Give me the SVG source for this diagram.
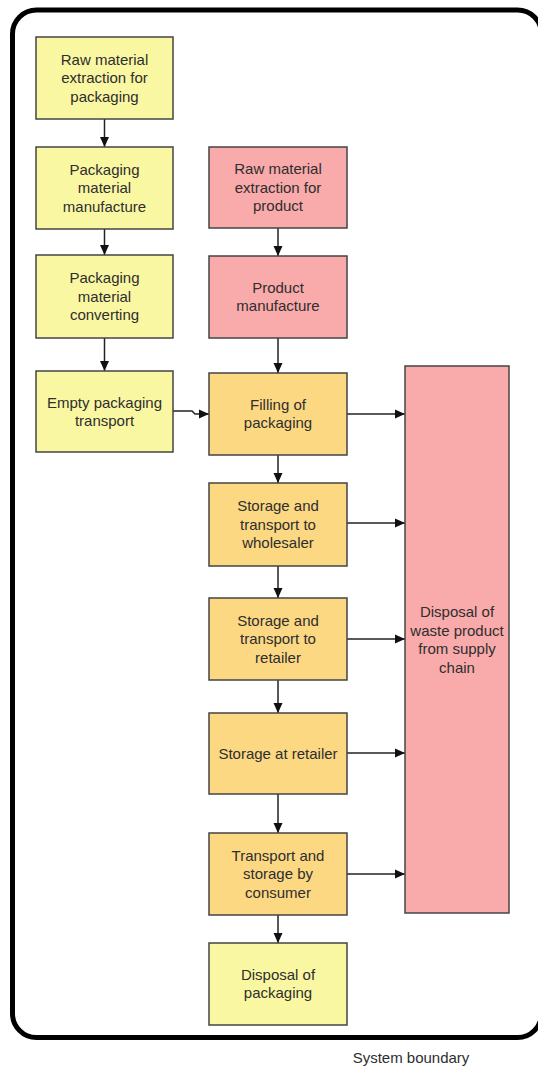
<svg xmlns="http://www.w3.org/2000/svg" width="538" height="1068" viewBox="0 0 538 1068">
<style>
.box{stroke:#444;stroke-width:1.5}
.y{fill:#FAF7A2}
.o{fill:#FCD883}
.p{fill:#F9AAAA}
text{font-family:"Liberation Sans",Arial,sans-serif;font-size:15px;fill:#2e2e2e;text-anchor:middle}
.c{stroke:#222;stroke-width:1.5;fill:none}
</style>
<defs>
<marker id="ah" markerWidth="11" markerHeight="11" refX="10" refY="5" orient="auto" markerUnits="userSpaceOnUse">
<path d="M0,0.5 L10,5 L0,9.5 Z" fill="#111"/>
</marker>
</defs>
<rect x="12.5" y="10" width="529" height="1027.5" rx="24" fill="#fff" stroke="#000" stroke-width="5"/>
<g id="connectors">
<path class="c" d="M104.5,119 V147" marker-end="url(#ah)"/>
<path class="c" d="M104.5,229 V255" marker-end="url(#ah)"/>
<path class="c" d="M104.5,338 V371" marker-end="url(#ah)"/>
<path class="c" d="M173,411 H192 L195,414 H209" marker-end="url(#ah)"/>
<path class="c" d="M278,228 V256" marker-end="url(#ah)"/>
<path class="c" d="M278,338 V373" marker-end="url(#ah)"/>
<path class="c" d="M278,455 V483" marker-end="url(#ah)"/>
<path class="c" d="M278,566 V598" marker-end="url(#ah)"/>
<path class="c" d="M278,680 V713" marker-end="url(#ah)"/>
<path class="c" d="M278,794 V833" marker-end="url(#ah)"/>
<path class="c" d="M278,915 V943" marker-end="url(#ah)"/>
<path class="c" d="M347,414 H405" marker-end="url(#ah)"/>
<path class="c" d="M347,523 H405" marker-end="url(#ah)"/>
<path class="c" d="M347,639 H405" marker-end="url(#ah)"/>
<path class="c" d="M347,753 H405" marker-end="url(#ah)"/>
<path class="c" d="M347,874 H405" marker-end="url(#ah)"/>
</g>
<g id="n1"><rect class="box y" x="36" y="37" width="137" height="82"/>
<text x="104.5"><tspan x="104.5" y="64.5">Raw material</tspan><tspan x="104.5" y="83">extraction for</tspan><tspan x="104.5" y="101.5">packaging</tspan></text></g>
<g id="n2"><rect class="box y" x="36" y="147" width="137" height="82"/>
<text x="104.5"><tspan x="104.5" y="174.5">Packaging</tspan><tspan x="104.5" y="193">material</tspan><tspan x="104.5" y="211.5">manufacture</tspan></text></g>
<g id="n3"><rect class="box y" x="36" y="255" width="137" height="83"/>
<text x="104.5"><tspan x="104.5" y="283">Packaging</tspan><tspan x="104.5" y="301.5">material</tspan><tspan x="104.5" y="320">converting</tspan></text></g>
<g id="n4"><rect class="box y" x="36" y="371" width="137" height="81"/>
<text x="104.5"><tspan x="104.5" y="407.5">Empty packaging</tspan><tspan x="104.5" y="426">transport</tspan></text></g>
<g id="n5"><rect class="box p" x="209" y="147" width="138" height="81"/>
<text x="278"><tspan x="278" y="174">Raw material</tspan><tspan x="278" y="192.5">extraction for</tspan><tspan x="278" y="211">product</tspan></text></g>
<g id="n6"><rect class="box p" x="209" y="256" width="138" height="82"/>
<text x="278"><tspan x="278" y="292.5">Product</tspan><tspan x="278" y="311">manufacture</tspan></text></g>
<g id="n7"><rect class="box o" x="209" y="373" width="138" height="82"/>
<text x="278"><tspan x="278" y="409.5">Filling of</tspan><tspan x="278" y="428">packaging</tspan></text></g>
<g id="n8"><rect class="box o" x="209" y="483" width="138" height="83"/>
<text x="278"><tspan x="278" y="511">Storage and</tspan><tspan x="278" y="529.5">transport to</tspan><tspan x="278" y="548">wholesaler</tspan></text></g>
<g id="n9"><rect class="box o" x="209" y="598" width="138" height="82"/>
<text x="278"><tspan x="278" y="625.5">Storage and</tspan><tspan x="278" y="644">transport to</tspan><tspan x="278" y="662.5">retailer</tspan></text></g>
<g id="n10"><rect class="box o" x="209" y="713" width="138" height="81"/>
<text x="278" y="758.5">Storage at retailer</text></g>
<g id="n11"><rect class="box o" x="209" y="833" width="138" height="82"/>
<text x="278"><tspan x="278" y="860.5">Transport and</tspan><tspan x="278" y="879">storage by</tspan><tspan x="278" y="897.5">consumer</tspan></text></g>
<g id="n12"><rect class="box y" x="209" y="943" width="138" height="82"/>
<text x="278"><tspan x="278" y="979.5">Disposal of</tspan><tspan x="278" y="998">packaging</tspan></text></g>
<g id="n13"><rect class="box p" x="405" y="366" width="104" height="547"/>
<text x="457"><tspan x="457" y="617">Disposal of</tspan><tspan x="457" y="635.5">waste product</tspan><tspan x="457" y="654">from supply</tspan><tspan x="457" y="672.5">chain</tspan></text></g>
<text x="411" y="1063">System boundary</text>
</svg>
